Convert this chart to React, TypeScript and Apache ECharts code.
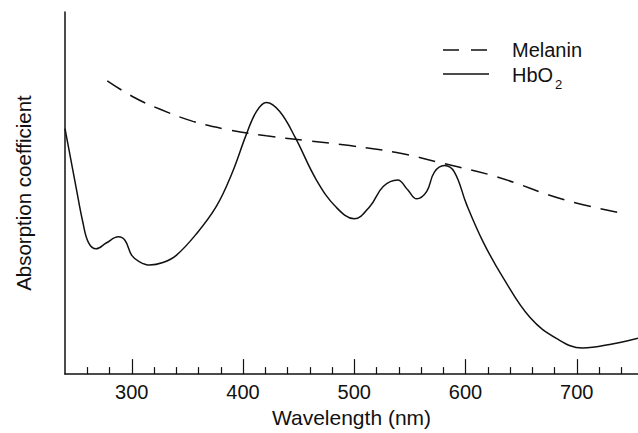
import React, { useEffect, useRef } from "react";
import * as echarts from "echarts";

// Wavelength (nm) / relative absorption for oxygenated haemoglobin
const hbo2Wavelengths = [
  240, 250, 256, 261, 268, 277, 288, 294, 300, 307, 316, 328, 340, 358, 376,
  390, 403, 412, 421, 433, 447, 466, 484, 500, 514, 526, 539, 548, 556, 565,
  572, 581, 590, 601, 616, 634, 658, 682, 705, 733, 755,
];
const hbo2Values = [
  67.8, 51.5, 42, 36.4, 34.6, 36.2, 37.9, 36.9, 32.8, 31, 30.1, 30.8, 32.8,
  38.7, 46.3, 55.4, 66.2, 72.5, 75, 72.5, 65.3, 53.6, 46, 42.9, 46.3, 51.8,
  53.6, 50.9, 48.4, 50.4, 55.8, 57.6, 55.8, 46.8, 36.4, 26.5, 15.6, 9.8, 7.2,
  8.4, 9.9,
];

// Wavelength (nm) / relative absorption for melanin
const melaninWavelengths = [278, 301, 325, 355, 385, 421, 460, 496, 538, 581, 628, 688, 743];
const melaninValues = [81, 76.6, 73.2, 69.8, 67.6, 65.8, 64.4, 63.1, 61.2, 58.1, 54.5, 48.2, 44.3];

// Axis ticks
const majorTicks = [300, 400, 500, 600, 700];
const minorTicks = [
  260, 280, 320, 340, 360, 380, 420, 440, 460, 480, 520, 540, 560, 580, 620,
  640, 660, 680, 720, 740,
];

const FONT = "'Liberation Sans', Arial, Helvetica, sans-serif";
const INK = "#111";

const pairs = (xs: number[], ys: number[]) => xs.map((x, i) => [x, ys[i]]);

export default function App() {
  const ref = useRef<HTMLDivElement>(null);

  useEffect(() => {
    if (!ref.current) return;
    const chart = echarts.init(ref.current, undefined, { renderer: "svg" });

    const baseX = {
      type: "value" as const,
      min: 240,
      max: 755,
      position: "bottom" as const,
      splitLine: { show: false },
    };

    chart.setOption({
      animation: false,
      backgroundColor: "#fff",
      textStyle: { fontFamily: FONT },
      grid: { left: 65, right: 0, top: 12, bottom: 52, containLabel: false },
      xAxis: [
        {
          ...baseX,
          axisLine: { show: true, lineStyle: { color: INK, width: 1.5 } },
          axisTick: {
            show: true,
            inside: true,
            length: 7,
            customValues: minorTicks,
            lineStyle: { color: INK, width: 1.2 },
          },
          axisLabel: {
            customValues: majorTicks,
            fontSize: 20,
            color: INK,
            fontFamily: FONT,
            margin: 8,
          },
          name: "Wavelength (nm)",
          nameLocation: "middle",
          nameGap: 28,
          nameTextStyle: { fontSize: 21, color: INK, fontFamily: FONT },
        },
        {
          ...baseX,
          axisLine: { show: false },
          axisTick: {
            show: true,
            inside: true,
            length: 15,
            customValues: majorTicks,
            lineStyle: { color: INK, width: 1.2 },
          },
          axisLabel: { show: false },
        },
      ],
      yAxis: {
        type: "value",
        min: 0,
        max: 100,
        axisLine: { show: true, lineStyle: { color: INK, width: 1.5 } },
        axisTick: { show: false },
        axisLabel: { show: false },
        splitLine: { show: false },
        name: "Absorption coefficient",
        nameLocation: "middle",
        nameGap: 31,
        nameRotate: 90,
        nameTextStyle: { fontSize: 20.5, color: INK, fontFamily: FONT },
      },
      series: [
        {
          name: "Melanin",
          type: "line",
          xAxisIndex: 0,
          data: pairs(melaninWavelengths, melaninValues),
          smooth: 0.4,
          symbol: "none",
          lineStyle: { color: INK, width: 1.5, type: [17, 10] },
        },
        {
          name: "HbO2",
          type: "line",
          xAxisIndex: 0,
          data: pairs(hbo2Wavelengths, hbo2Values),
          smooth: 0.4,
          symbol: "none",
          lineStyle: { color: INK, width: 1.5 },
        },
      ],
      graphic: [
        {
          type: "line",
          shape: { x1: 443, y1: 50, x2: 489, y2: 50 },
          style: { stroke: INK, lineWidth: 1.5, lineDash: [16, 12] },
        },
        {
          type: "text",
          x: 512,
          y: 50,
          style: {
            text: "Melanin",
            fontSize: 20,
            fontFamily: FONT,
            fill: INK,
            verticalAlign: "middle",
          },
        },
        {
          type: "line",
          shape: { x1: 443, y1: 74, x2: 489, y2: 74 },
          style: { stroke: INK, lineWidth: 1.5 },
        },
        {
          type: "text",
          x: 512,
          y: 75,
          style: {
            text: "HbO",
            fontSize: 20,
            fontFamily: FONT,
            fill: INK,
            verticalAlign: "middle",
          },
        },
        {
          type: "text",
          x: 555,
          y: 84,
          style: {
            text: "2",
            fontSize: 13,
            fontFamily: FONT,
            fill: INK,
            verticalAlign: "middle",
          },
        },
      ],
    });

    return () => chart.dispose();
  }, []);

  return (
    <div
      ref={ref}
      style={{ position: "fixed", left: 0, top: 0, width: 638, height: 433, background: "#fff" }}
    />
  );
}
